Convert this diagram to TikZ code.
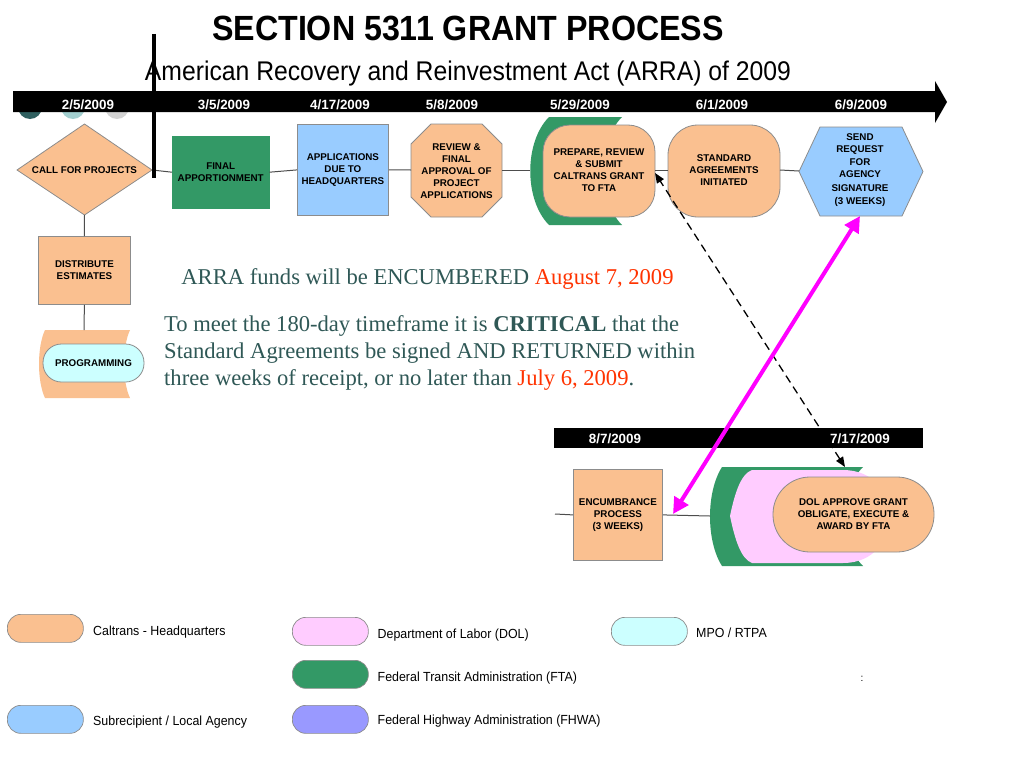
\documentclass[tikz,border=0pt]{standalone}
\usepackage{fontspec}
\usepackage{graphicx}
\setmainfont{Liberation Serif}
\setsansfont{Liberation Sans}
\usetikzlibrary{arrows.meta}
\definecolor{peach}{HTML}{FAC090}
\definecolor{fta}{HTML}{339966}
\definecolor{sublue}{HTML}{99CCFF}
\definecolor{dolpink}{HTML}{FFCCFF}
\definecolor{mpocyan}{HTML}{CCFFFF}
\definecolor{fhwa}{HTML}{9999FF}
\definecolor{bodytxt}{HTML}{2F5856}
\definecolor{redtxt}{HTML}{FF3300}
\definecolor{outl}{HTML}{8C8C8C}
\definecolor{connc}{HTML}{4D4D4D}
\definecolor{dotA}{HTML}{2F5F5F}
\definecolor{dotB}{HTML}{A3CFCF}
\definecolor{dotC}{HTML}{D3D3D3}
\definecolor{magarrow}{HTML}{FF00FF}
\newcommand{\tahx}[1]{\scalebox{0.94}[1]{#1}}
\begin{document}
\begin{tikzpicture}[x=1pt,y=-1pt,
  lbl/.style={font=\sffamily\bfseries\fontsize{9.8}{12}\selectfont, align=center, inner sep=0pt, text=black},
  datelbl/.style={font=\sffamily\bfseries\fontsize{13.4}{16}\selectfont, text=white, inner sep=0pt, anchor=base},
  shp/.style={draw=outl, line width=0.8pt},
  conn/.style={draw=connc, line width=1pt},
  legtxt/.style={font=\sffamily\fontsize{13.2}{15}\selectfont, anchor=base west, inner sep=0pt},
  legbox/.style={draw=outl, line width=0.7pt, rounded corners=13.5pt, minimum width=76pt, minimum height=28pt, inner sep=0pt, anchor=north west},
  body/.style={font=\fontsize{22.6}{27}\selectfont, text=bodytxt, inner sep=0pt},
  dasharrow/.style={draw=black, line width=1.3pt, dash pattern=on 8pt off 5pt, {Triangle[length=10pt,width=8pt]}-{Triangle[length=10pt,width=8pt]}},
  magentaarrow/.style={draw=magarrow, line width=4pt, {Triangle[length=16pt,width=16pt]}-{Triangle[length=16pt,width=16pt]}}
]
\useasboundingbox (0,0) rectangle (1024,768);
\fill[white] (0,0) rectangle (1024,768);

% ---------- title ----------
\node[font=\sffamily\bfseries\fontsize{35}{40}\selectfont, inner sep=0pt, anchor=base] (title) at (468,41)
  {\scalebox{0.92}[1]{SECTION 5311 GRANT PROCESS}};
\node[font=\sffamily\fontsize{27}{30}\selectfont, inner sep=0pt, anchor=base] (subtitle) at (468,81)
  {\scalebox{0.916}[1]{American Recovery and Reinvestment Act (ARRA) of 2009}};

% ---------- top timeline ----------
\fill[dotA] (30,107) circle (12);
\fill[dotB] (73,107) circle (12);
\fill[dotC] (117,107) circle (12);
\fill[black] (13,91) -- (935,91) -- (935,81) -- (947,102) -- (935,123) -- (935,112) -- (13,112) -- cycle;
\node[datelbl] (d1) at (88,109) {2/5/2009};
\node[datelbl] (d2) at (224,109) {3/5/2009};
\node[datelbl] (d3) at (340,109) {4/17/2009};
\node[datelbl] (d4) at (452,109) {5/8/2009};
\node[datelbl] (d5) at (580,109) {5/29/2009};
\node[datelbl] (d6) at (722,109) {6/1/2009};
\node[datelbl] (d7) at (861,109) {6/9/2009};

% ---------- named connection points ----------
\coordinate (callE) at (152,170);
\coordinate (callS) at (84.5,215);
\coordinate (reviewW) at (411,170);
\coordinate (reviewE) at (502,170);
\coordinate (prepW) at (530,170);
\coordinate (prepE) at (655,170);
\coordinate (prepArrow) at (655,173);
\coordinate (stdW) at (668,170);
\coordinate (stdE) at (780,170);
\coordinate (sendW) at (799,171);
\coordinate (sendS) at (860,216);
\coordinate (progN) at (84,330);
\coordinate (encIn) at (555,514);
\coordinate (encArrow) at (673,514);
\coordinate (dolW) at (710,516);
\coordinate (dolN) at (845,467);

% ---------- row of process shapes ----------
\path[shp, fill=peach] (17,170) -- (84.5,124) -- (152,170) -- (84.5,215) -- cycle;
\node[lbl] (call) at (84.5,170) {CALL FOR PROJECTS};

\node[lbl, draw=fta, fill=fta, minimum width=97pt, minimum height=72pt, anchor=north west] (final) at (172,136) {FINAL\\APPORTIONMENT};

\node[lbl, shp, fill=sublue, minimum width=91pt, minimum height=91pt, anchor=north west] (apps) at (297,124) {APPLICATIONS\\DUE TO\\HEADQUARTERS};

\path[shp, fill=peach] (431,124) -- (482,124) -- (502,144) -- (502,197) -- (482,217) -- (431,217) -- (411,197) -- (411,144) -- cycle;
\node[lbl] (review) at (456.5,171.5) {REVIEW \&\\FINAL\\APPROVAL OF\\PROJECT\\APPLICATIONS};

\path[fill=fta] (549,117) -- (622,117) .. controls (597,142) and (597,200) .. (622,225) -- (549,225) .. controls (524,200) and (524,142) .. (549,117) -- cycle;
\path[shp, fill=peach, rounded corners=27pt] (543,125) rectangle (655,217);
\node[lbl] (prepare) at (599,170) {PREPARE, REVIEW\\\& SUBMIT\\CALTRANS GRANT\\TO FTA};

\path[shp, fill=peach, rounded corners=30pt] (668,125) rectangle (780,217);
\node[lbl] (standard) at (724,170) {STANDARD\\AGREEMENTS\\INITIATED};

\path[shp, fill=sublue] (799,171.5) -- (820,127) -- (902,127) -- (923,171.5) -- (902,216) -- (820,216) -- cycle;
\node[lbl, font=\sffamily\bfseries\fontsize{9.8}{12.3}\selectfont] (send) at (860,170) {SEND\\REQUEST\\FOR\\AGENCY\\[1.8pt]SIGNATURE\\[0.6pt](3 WEEKS)};

\draw[conn] (callE) -- (final.west);
\draw[conn] (final.east) -- (apps.west);
\draw[conn] (apps.east) -- (reviewW);
\draw[conn] (reviewE) -- (prepW);
\draw[conn] (prepE) -- (stdW);
\draw[conn] (stdE) -- (sendW);

\draw[line width=4pt] (154,34) -- (154,178);

% ---------- left column ----------
\node[lbl, shp, fill=peach, minimum width=92pt, minimum height=68pt, anchor=north west] (dist) at (38,236) {DISTRIBUTE\\ESTIMATES};
\path[fill=peach] (45,330) -- (130,330) .. controls (122,347) and (122,381) .. (130,398) -- (45,398) .. controls (37,381) and (37,347) .. (45,330) -- cycle;
\node[lbl, shp, fill=mpocyan, rounded corners=18.5pt, minimum width=101pt, minimum height=38pt] (prog) at (93.5,363) {PROGRAMMING};
\draw[conn] (callS) -- (dist.north);
\draw[conn] (dist.south) -- (progN);

% ---------- notes ----------
\node[body, anchor=base] (note0) at (427.5,284) {ARRA funds will be ENCUMBERED \textcolor{redtxt}{August 7, 2009}};
\node[body, anchor=base west] (note1) at (164,331) {To meet the 180-day timeframe it is \textbf{CRITICAL} that the};
\node[body, anchor=base west] (note2) at (164,358) {Standard Agreements be signed AND RETURNED within};
\node[body, anchor=base west] (note3) at (164,385) {three weeks of receipt, or no later than \textcolor{redtxt}{July 6, 2009}.};

% ---------- lower timeline ----------
\fill[black] (554,428) rectangle (923,448);
\node[datelbl] (d8) at (615,443) {8/7/2009};
\node[datelbl] (d9) at (860,443) {7/17/2009};

\node[lbl, shp, fill=peach, minimum width=89pt, minimum height=91pt, anchor=north west] (enc) at (573,469) {ENCUMBRANCE\\PROCESS\\(3 WEEKS)};

\path[fill=fta] (722,467) -- (863,467) .. controls (838,492) and (838,541) .. (863,566) -- (722,566) .. controls (706,541) and (706,492) .. (722,467) -- cycle;
\path[fill=dolpink] (730,516) .. controls (735,492) and (741,474) .. (752,470) -- (843,470) .. controls (905,470) and (905,563) .. (843,563) -- (752,563) .. controls (741,559) and (735,540) .. (730,516) -- cycle;
\node[lbl, shp, fill=peach, rounded corners=37pt, minimum width=161pt, minimum height=75pt] (dol) at (853.5,514.5) {DOL APPROVE GRANT\\OBLIGATE, EXECUTE \&\\AWARD BY FTA};

\draw[conn] (encIn) -- (enc.west);
\draw[conn] (enc.east) -- (dolW);

% ---------- arrows ----------
\draw[dasharrow] (dolN) -- (prepArrow);
\draw[magentaarrow] (encArrow) -- (sendS);

% ---------- legend ----------
\node[legbox, fill=peach] (lg1) at (7,614) {};
\node[legtxt] (lt1) at (93,635) {\tahx{Caltrans - Headquarters}};
\node[legbox, fill=sublue] (lg2) at (7,705) {};
\node[legtxt] (lt2) at (93,725) {\tahx{Subrecipient / Local Agency}};
\node[legbox, fill=dolpink] (lg3) at (292,617) {};
\node[legtxt] (lt3) at (377.5,638) {\tahx{Department of Labor (DOL)}};
\node[legbox, fill=fta] (lg4) at (292,660) {};
\node[legtxt] (lt4) at (377.5,681.5) {\tahx{Federal Transit Administration (FTA)}};
\node[legbox, fill=fhwa] (lg5) at (292,705) {};
\node[legtxt] (lt5) at (377.5,724) {\tahx{Federal Highway Administration (FHWA)}};
\node[legbox, fill=mpocyan] (lg6) at (611,617) {};
\node[legtxt] (lt6) at (696,637.5) {\tahx{MPO / RTPA}};

\node[font=\sffamily\fontsize{10}{12}\selectfont, inner sep=0pt] (colon) at (862,679) {:};
\end{tikzpicture}
\end{document}
